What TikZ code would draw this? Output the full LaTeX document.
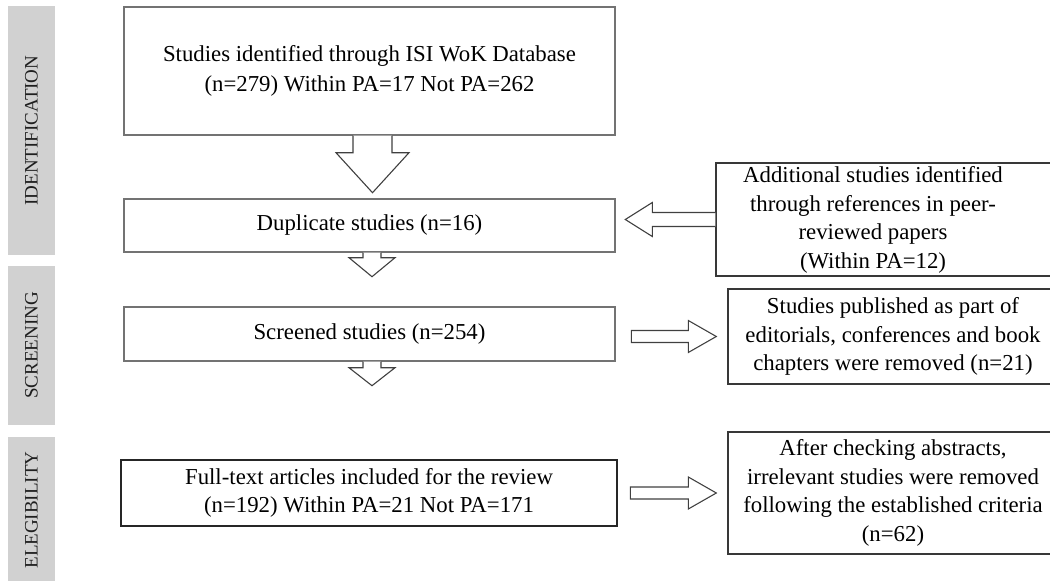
\documentclass[tikz,border=0pt]{standalone}
\usepackage{fontspec}
\setmainfont{Liberation Serif}
\usetikzlibrary{calc}

\tikzset{
 txt/.style = {align=center, font=\fontsize{22.8}{28.5}\selectfont},
 lbox/.style = {txt, draw=black!55, line width=1.4pt, minimum width=491pt},
 rbox/.style = {txt, draw=black!78, line width=1.4pt, minimum width=330pt},
 phase/.style = {fill=black!18, rotate=90, minimum height=47pt, text=black!88,
   font=\fontsize{19}{19}\selectfont},
 barrow/.style = {draw=black!75, line width=1.1pt, fill=white, line join=miter}
}

\begin{document}
\begin{tikzpicture}[x=1pt, y=-1pt]
 \useasboundingbox (0,0) rectangle (1050,581);
 % phases
 \node[phase, minimum width=249pt] (id) at (31.5,130.5) {IDENTIFICATION};
 \node[phase, minimum width=159pt] (sc) at (31.5,345.5) {SCREENING};
 \node[phase, minimum width=146pt] (el) at (31.5,510) {ELEGIBILITY};
 % main column
 \node[lbox, minimum height=128pt, font=\fontsize{22.8}{30}\selectfont] (top) at (369.5,71)
  {Studies identified through ISI WoK Database\\(n=279) Within PA=17 Not PA=262};
 \node[lbox, minimum height=53pt] (dup) at (369.5,225.5) {Duplicate studies (n=16)};
 \node[lbox, minimum height=54pt] (scr) at (369.5,334) {Screened studies (n=254)};
 \node[lbox, draw=black!85, minimum width=496pt, minimum height=66pt] (full) at (369,493)
  {Full-text articles included for the review\\(n=192) Within PA=21 Not PA=171};
 % side column
 \node[rbox, minimum width=342pt, minimum height=113pt] (add) at (887,219.5) {};
 \node[txt] (addtxt) at (873,220)
  {Additional studies identified\\through references in peer-\\reviewed papers\\(Within PA=12)};
 \node[rbox, minimum height=95pt] (pub) at (893,336.5)
  {Studies published as part of\\editorials, conferences and book\\chapters were removed (n=21)};
 \node[rbox, minimum height=122pt] (chk) at (893,493)
  {After checking abstracts,\\irrelevant studies were removed\\following the established criteria\\(n=62)};
 % block arrows
 \draw[barrow] ($(top.south)+(-16.5,0)$) -- ++(0,17) -- ++(-17,0) -- ++(36.5,40)
  -- ++(36.5,-40) -- ++(-17,0) -- ++(0,-17);
 \draw[barrow] ($(dup.south)+(-6.5,0)$) -- ++(0,5) -- ++(-14,0) -- ++(23,19)
  -- ++(23,-19) -- ++(-14,0) -- ++(0,-5);
 \draw[barrow] ($(scr.south)+(-6.5,0)$) -- ++(0,6) -- ++(-14,0) -- ++(23,18)
  -- ++(23,-18) -- ++(-14,0) -- ++(0,-6);
 \draw[barrow] ($(add.west)+(0,-7)$) -- ++(-63,0) -- ++(0,-10) -- ++(-27,17)
  -- ++(27,17) -- ++(0,-10) -- ++(63,0);
 \draw[barrow] ($(pub.west)+(-96,-6)$) -- ++(57,0) -- ++(0,-10) -- ++(28,16)
  -- ++(-28,16) -- ++(0,-10) -- ++(-57,0) -- cycle;
 \draw[barrow] ($(chk.west)+(-97,-6)$) -- ++(58,0) -- ++(0,-10) -- ++(28,16)
  -- ++(-28,16) -- ++(0,-10) -- ++(-58,0) -- cycle;
\end{tikzpicture}
\end{document}
